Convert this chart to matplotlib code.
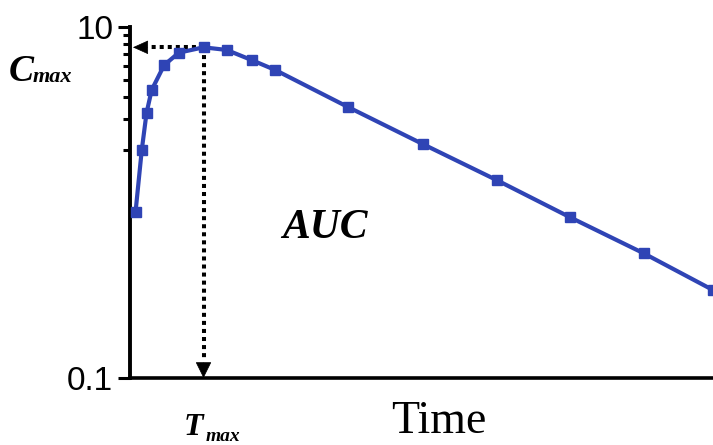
import numpy as np
import matplotlib
matplotlib.use('Agg')
from matplotlib import pyplot as plt

# Concentration-time profile (log y)
times = [0.15, 0.32, 0.45, 0.59, 0.93, 1.33, 2.0, 2.63, 3.31, 3.95,
         5.93, 7.97, 9.98, 11.97, 13.97, 15.86]
conc = [0.88, 1.99, 3.24, 4.38, 6.07, 7.14, 7.66, 7.40, 6.48, 5.69,
        3.50, 2.15, 1.34, 0.824, 0.514, 0.317]

y_ticks = [0.1, 10]
y_tick_labels = ['0.1', '10']
y_minor = [2, 3, 4, 5, 6, 7, 8, 9]

blue = '#2f44b5'
serif = 'Liberation Serif'

fig = plt.figure(figsize=(7.13, 4.45), dpi=100)
ax = fig.add_axes([130 / 713, 67 / 445, 583 / 713, 351 / 445])

ax.plot(times, conc, color=blue, lw=3, marker='s', ms=7.5, zorder=3)

ax.set_yscale('log')
ax.set_ylim(0.1, 10)
ax.set_xlim(0, 15.86)

# Tmax / Cmax markers
i_max = int(np.argmax(conc))
tmax, cmax = times[i_max], conc[i_max]
dots = dict(color='k', lw=2.9, linestyle=(0, (1, 1)), dash_capstyle='butt', zorder=2)
ax.plot([tmax, 0.5], [cmax, cmax], **dots)
ax.plot([tmax, tmax], [cmax, 0.125], **dots)
ax.annotate('', xy=(0.08, cmax), xytext=(0.47, cmax),
            arrowprops=dict(arrowstyle='-|>,head_length=1.0,head_width=0.45',
                            color='k', lw=0.5, shrinkA=0, shrinkB=0))
ax.annotate('', xy=(tmax, 0.1), xytext=(tmax, 0.122),
            arrowprops=dict(arrowstyle='-|>,head_length=1.05,head_width=0.52',
                            color='k', lw=0.5, shrinkA=0, shrinkB=0))

ax.set_yticks(y_ticks)
ax.set_yticklabels(y_tick_labels, fontsize=24, family='Liberation Sans')
ax.set_yticks(y_minor, minor=True)
ax.set_yticklabels([], minor=True)
ax.tick_params(axis='y', which='major', length=9, width=2.2, pad=3)
ax.tick_params(axis='y', which='minor', length=5, width=2.2)
ax.set_xticks([])

for s in ['top', 'right']:
    ax.spines[s].set_visible(False)
ax.spines['left'].set_linewidth(2.8)
ax.spines['bottom'].set_linewidth(2.6)

# annotations
fig.text(9 / 713, 1 - 81 / 445, 'C', fontsize=27, family=serif,
         weight='bold', style='italic', va='baseline')
fig.text(33 / 713, 1 - 82 / 445, 'max', fontsize=16, family=serif,
         weight='bold', style='italic', va='baseline')
fig.text(184 / 713, 1 - 435 / 445, 'T', fontsize=23, family=serif,
         weight='bold', style='italic', va='baseline')
fig.text(206 / 713, 1 - 441 / 445, 'max', fontsize=14, family=serif,
         weight='bold', style='italic', va='baseline')
fig.text(325 / 713, 1 - 228 / 445, 'AUC', fontsize=30, family=serif,
         weight='bold', style='italic', ha='center', va='center')
fig.text(439 / 713, 1 - 422 / 445, 'Time', fontsize=33, family=serif,
         ha='center', va='center')

fig.savefig('out.png', dpi=100)
